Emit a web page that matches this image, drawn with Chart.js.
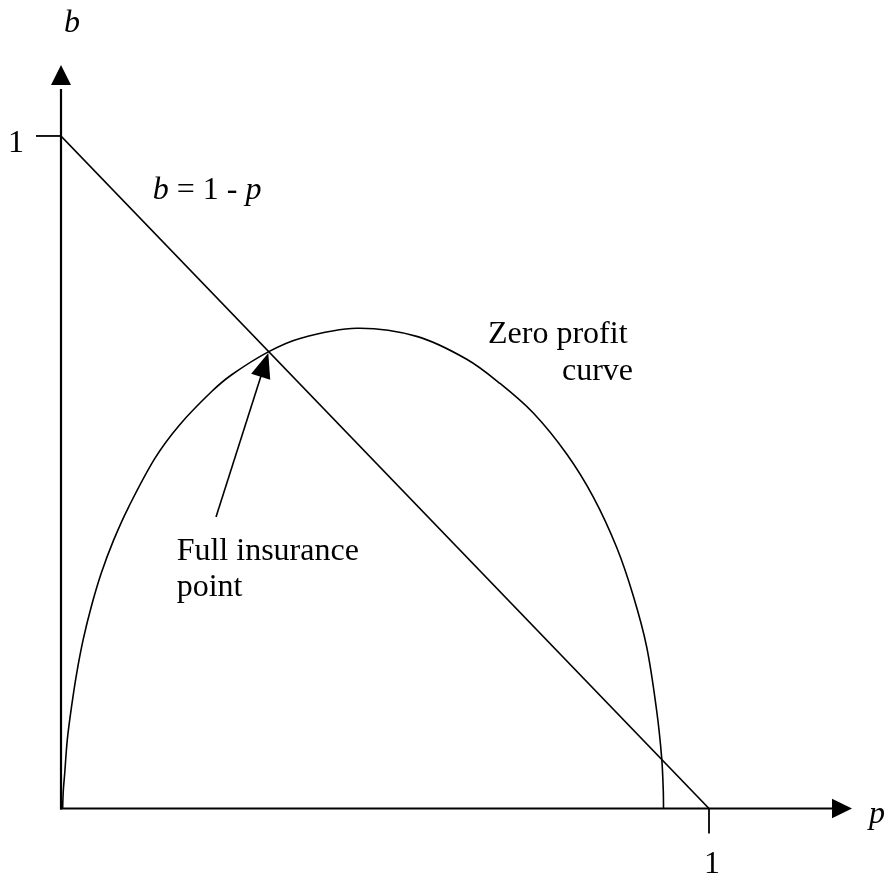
<!DOCTYPE html>
<html>
<head>
<meta charset="utf-8">
<script src="https://cdn.jsdelivr.net/npm/chart.js@4/dist/chart.umd.min.js"></script>
<style>
  html, body { margin: 0; padding: 0; background: #fff; }
  #wrap { width: 893px; height: 879px; }
</style>
</head>
<body>
<div id="wrap"><canvas id="c" width="893" height="879"></canvas></div>
<script>
// ---- data ----
const zeroProfitP = [0.0025, 0.0035, 0.0057, 0.0097, 0.0162, 0.0242, 0.0342, 0.0467, 0.0622, 0.0812, 0.1047, 0.1451, 0.1826, 0.2325, 0.2634, 0.3199, 0.3688, 0.4563, 0.5489, 0.6261, 0.6775, 0.7289, 0.7804, 0.8215, 0.8576, 0.8832, 0.9039, 0.9193, 0.9270, 0.9295, 0.9298];
const zeroProfitB = [0, 0.026, 0.052, 0.102, 0.151, 0.201, 0.251, 0.300, 0.350, 0.399, 0.449, 0.521, 0.570, 0.620, 0.645, 0.679, 0.699, 0.714, 0.702, 0.668, 0.632, 0.588, 0.527, 0.463, 0.388, 0.316, 0.240, 0.145, 0.075, 0.025, 0];
const budgetP = [0, 1];
const budgetB = [1, 0];
const xTickValues = [1];
const xTickLabels = ['1'];
const yTickValues = [1];
const yTickLabels = ['1'];
const fullInsuranceP = 0.3199;   // intersection the arrow points at
const fullInsuranceB = 0.6773;

// ---- build points ----
const toPts = (xs, ys) => xs.map((v, i) => ({ x: v, y: ys[i] }));

const FONT = '"Liberation Serif", "Times New Roman", serif';
const FS = 32;

function arrowHead(ctx, tipX, tipY, fromX, fromY, len, half) {
  const ang = Math.atan2(tipY - fromY, tipX - fromX);
  const bx = tipX - len * Math.cos(ang), by = tipY - len * Math.sin(ang);
  const nx = -Math.sin(ang), ny = Math.cos(ang);
  ctx.beginPath();
  ctx.moveTo(tipX, tipY);
  ctx.lineTo(bx + nx * half, by + ny * half);
  ctx.lineTo(bx - nx * half, by - ny * half);
  ctx.closePath();
  ctx.fill();
}

const decor = {
  id: 'decor',
  afterDatasetsDraw(chart) {
    const ctx = chart.ctx;
    const sx = chart.scales.x, sy = chart.scales.y;
    const X = v => sx.getPixelForValue(v);
    const Y = v => sy.getPixelForValue(v);
    const x0 = X(0), y0 = Y(0);
    ctx.save();
    ctx.strokeStyle = '#000';
    ctx.fillStyle = '#000';
    ctx.lineCap = 'butt';

    // y axis
    ctx.lineWidth = 2.2;
    ctx.beginPath();
    ctx.moveTo(x0, y0 + 1);
    ctx.lineTo(x0, Y(1.07));
    ctx.stroke();
    arrowHead(ctx, x0, Y(1.1056), x0, y0, 20, 10);

    // x axis
    ctx.beginPath();
    ctx.moveTo(x0 - 1, y0);
    ctx.lineTo(X(1.19), y0);
    ctx.stroke();
    arrowHead(ctx, X(1.2207), y0, x0, y0, 20, 9.7);

    // ticks
    ctx.lineWidth = 1.8;
    yTickValues.forEach(v => {
      ctx.beginPath();
      ctx.moveTo(x0 - 25, Y(v));
      ctx.lineTo(x0, Y(v));
      ctx.stroke();
    });
    xTickValues.forEach(v => {
      ctx.beginPath();
      ctx.moveTo(X(v), y0);
      ctx.lineTo(X(v), y0 + 25);
      ctx.stroke();
    });

    // pointer arrow to the full insurance point
    ctx.lineWidth = 1.6;
    const ax = X(0.2392), ay = Y(0.4335);
    const tx = X(fullInsuranceP), ty = Y(fullInsuranceB);
    const ang = Math.atan2(ty - ay, tx - ax);
    ctx.beginPath();
    ctx.moveTo(ax, ay);
    ctx.lineTo(tx - 18 * Math.cos(ang), ty - 18 * Math.sin(ang));
    ctx.stroke();
    arrowHead(ctx, tx, ty, ax, ay, 25, 10);

    // texts
    ctx.textBaseline = 'alphabetic';
    const reg = FS + 'px ' + FONT;
    const ital = 'italic ' + FS + 'px ' + FONT;

    ctx.font = ital;
    ctx.textAlign = 'center';
    ctx.fillText('b', X(0.017), Y(1.1547));

    ctx.font = reg;
    yTickLabels.forEach((t, i) => ctx.fillText(t, X(-0.0694), Y(yTickValues[i] - 0.024)));
    xTickLabels.forEach((t, i) => ctx.fillText(t, X(xTickValues[i] + 0.0046), Y(-0.0955)));

    ctx.textAlign = 'left';
    ctx.font = ital;
    ctx.fillText('p', X(1.2469), Y(-0.0216));

    // b = 1 - p
    let cx = X(0.1415);
    const by = Y(0.9063);
    ctx.font = ital; ctx.fillText('b', cx, by); cx += ctx.measureText('b').width;
    ctx.font = reg; ctx.fillText(' = 1 - ', cx, by); cx += ctx.measureText(' = 1 - ').width;
    ctx.font = ital; ctx.fillText('p', cx, by);

    ctx.font = reg;
    ctx.fillText('Zero profit', X(0.659), Y(0.6922));
    ctx.fillText('curve', X(0.7731), Y(0.6372));
    ctx.fillText('Full insurance', X(0.1785), Y(0.3695));
    ctx.fillText('point', X(0.1785), Y(0.316));

    ctx.restore();
  }
};

new Chart(document.getElementById('c'), {
  type: 'scatter',
  data: {
    datasets: [
      {
        label: 'Zero profit curve',
        data: toPts(zeroProfitP, zeroProfitB),
        showLine: true,
        borderColor: '#000',
        borderWidth: 1.6,
        pointRadius: 0,
        tension: 0.34,
        fill: false
      },
      {
        label: 'b = 1 - p',
        data: toPts(budgetP, budgetB),
        showLine: true,
        borderColor: '#000',
        borderWidth: 1.6,
        pointRadius: 0,
        tension: 0,
        fill: false
      }
    ]
  },
  options: {
    responsive: false,
    animation: false,
    events: [],
    layout: { padding: { left: 61, right: 22, top: 35.1, bottom: 70.5 } },
    scales: {
      x: { type: 'linear', min: 0, max: 1.25, display: false },
      y: { type: 'linear', min: 0, max: 1.15, display: false }
    },
    plugins: {
      legend: { display: false },
      tooltip: { enabled: false }
    }
  },
  plugins: [decor]
});
</script>
</body>
</html>
